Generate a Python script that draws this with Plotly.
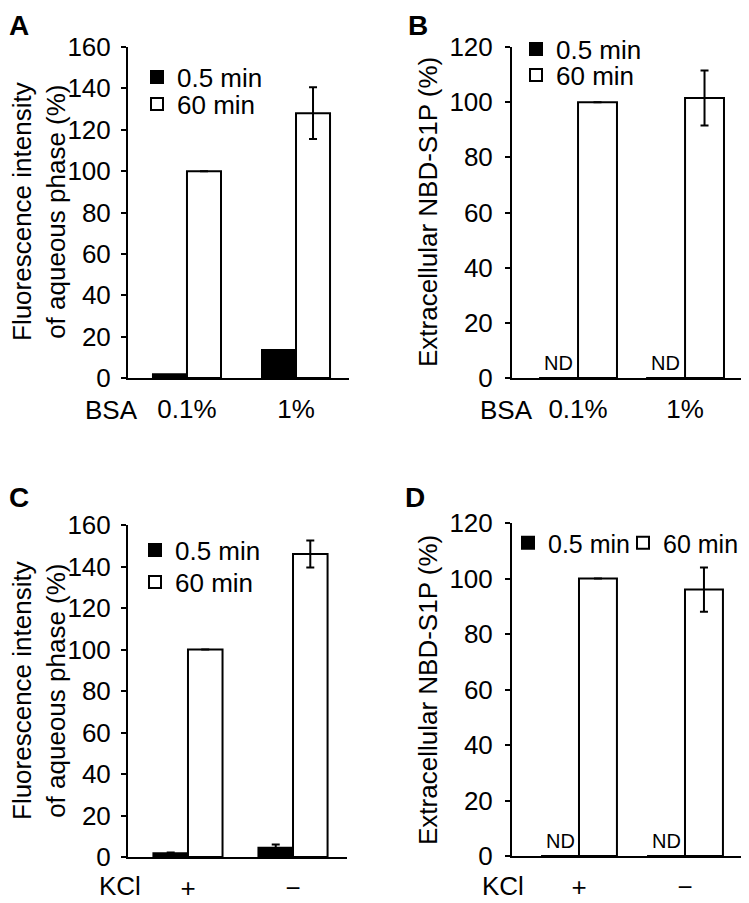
import plotly.graph_objects as go

W, H = 749, 903
OFF = 8  # the page body margin offsets the figure by 8 px
FONT = "Arial, Liberation Sans, sans-serif"
FS = 26

# ---------------- data ----------------
series_names = ["0.5 min", "60 min"]

a_categories = ["0.1%", "1%"]
a_black = [1.8, 13.5]
a_white = [100, 128]
a_white_err = [0, 12.5]

b_categories = ["0.1%", "1%"]
b_black = [0, 0]
b_black_label = ["ND", "ND"]
b_white = [100, 101.5]
b_white_err = [0, 10]

c_categories = ["+", "−"]
c_black = [1.8, 4.5]
c_black_err = [0.4, 1.5]
c_white = [100, 146]
c_white_err = [0, 6.5]

d_categories = ["+", "−"]
d_black = [0, 0]
d_black_label = ["ND", "ND"]
d_white = [100, 96]
d_white_err = [0, 8]

a_ticks = [0, 20, 40, 60, 80, 100, 120, 140, 160]
b_ticks = [0, 20, 40, 60, 80, 100, 120]

# ---------------- helpers ----------------
def px(x):
    return (x - OFF) / W

def py(y):
    return 1 - (y - OFF) / H

fig = go.Figure()

panels = [
    dict(xa="x", ya="y", cats=a_categories, black=a_black, black_err=None, black_label=None,
         white=a_white, white_err=a_white_err, w=0.312, leg=("legend", "legend2")),
    dict(xa="x2", ya="y2", cats=b_categories, black=b_black, black_err=None, black_label=b_black_label,
         white=b_white, white_err=b_white_err, w=0.364, leg=("legend3", "legend4")),
    dict(xa="x3", ya="y3", cats=c_categories, black=c_black, black_err=c_black_err, black_label=None,
         white=c_white, white_err=c_white_err, w=0.329, leg=("legend5", "legend6")),
    dict(xa="x4", ya="y4", cats=d_categories, black=d_black, black_err=None, black_label=d_black_label,
         white=d_white, white_err=d_white_err, w=0.358, leg=("legend7", "legend8")),
]

annotations = []
for p in panels:
    err_b = None
    if p["black_err"] is not None:
        err_b = dict(type="data", array=p["black_err"], visible=True, color="black",
                     thickness=2, width=4)
    fig.add_trace(go.Bar(
        x=p["cats"], y=p["black"], name=series_names[0],
        xaxis=p["xa"], yaxis=p["ya"], legend=p["leg"][0],
        width=p["w"], offset=-p["w"],
        marker=dict(color="black", line=dict(color="black", width=2)),
        error_y=err_b,
    ))
    fig.add_trace(go.Bar(
        x=p["cats"], y=p["white"], name=series_names[1],
        xaxis=p["xa"], yaxis=p["ya"], legend=p["leg"][1],
        width=p["w"], offset=0,
        marker=dict(color="white", line=dict(color="black", width=2)),
        error_y=dict(type="data", array=p["white_err"], visible=True, color="black",
                     thickness=2, width=4),
    ))
    if p["black_label"]:
        for i, lab in enumerate(p["black_label"]):
            annotations.append(dict(
                text=lab, x=i - p["w"] / 2, y=p["black"][i], xref=p["xa"], yref=p["ya"],
                showarrow=False, xanchor="center", yanchor="middle", yshift=15,
                font=dict(family=FONT, size=20, color="black")))

def xaxis(dom, rng, anchor):
    return dict(domain=[px(dom[0]), px(dom[1])], range=rng, anchor=anchor,
                showline=True, linecolor="black", linewidth=2, showgrid=False,
                zeroline=False, ticks="", ticklabelstandoff=7, layer="above traces",
                tickfont=dict(family=FONT, size=FS, color="black"), fixedrange=True)

def yaxis(dom, rng, ticks, anchor, standoff):
    return dict(domain=[py(dom[0]), py(dom[1])], range=rng, anchor=anchor,
                tickvals=ticks, showline=True, linecolor="black", linewidth=2,
                showgrid=False, zeroline=False, ticks="outside", ticklen=5,
                tickwidth=2, tickcolor="black", ticklabelstandoff=standoff,
                layer="above traces",
                tickfont=dict(family=FONT, size=FS, color="black"), fixedrange=True)

layout = dict(
    width=W, height=H, margin=dict(l=0, r=0, t=0, b=0, autoexpand=False),
    paper_bgcolor="white", plot_bgcolor="white",
    barmode="overlay", showlegend=True,
    font=dict(family=FONT, size=FS, color="black"),
    xaxis=xaxis((128, 349), [-0.541, 1.486], "y"),
    yaxis=yaxis((378, 47), [0, 160], a_ticks, "x", 5),
    xaxis2=xaxis((512, 747), [-0.617, 1.579], "y2"),
    yaxis2=yaxis((378, 47), [0, 120], b_ticks, "x2", 7),
    xaxis3=xaxis((128, 347), [-0.571, 1.514], "y3"),
    yaxis3=yaxis((857, 525), [0, 160], a_ticks, "x3", 5),
    xaxis4=xaxis((512, 747), [-0.632, 1.585], "y4"),
    yaxis4=yaxis((856, 523), [0, 120], b_ticks, "x4", 7),
)

# legends: (key, symbol-center x, text-center y, font size)
leg_pos = [
    ("legend", 157, 77, FS), ("legend2", 157, 104, FS),
    ("legend3", 536, 49, FS), ("legend4", 536, 75, FS),
    ("legend5", 155, 550, FS), ("legend6", 155, 582, FS),
    ("legend7", 528, 543, 25), ("legend8", 643, 543, 25),
]
for key, sx, ty, fs in leg_pos:
    layout[key] = dict(x=px(sx - 20), y=py(ty), xanchor="left", yanchor="middle",
                       bgcolor="rgba(0,0,0,0)", borderwidth=0,
                       font=dict(family=FONT, size=fs, color="black"),
                       itemclick=False, itemdoubleclick=False)

fig.update_layout(**layout)

# panel letters
for t, x, y in [("A", 19, 25), ("B", 418, 25), ("C", 19, 498), ("D", 415, 498)]:
    annotations.append(dict(text=f"<b>{t}</b>", x=px(x), y=py(y), xref="paper", yref="paper",
                            showarrow=False, xanchor="center", yanchor="middle",
                            font=dict(family=FONT, size=28, color="black")))
# y titles
for t, x, y in [("Fluorescence intensity<br>of aqueous phase (%)", 39, 212),
                ("Extracellular NBD-S1P (%)", 428, 212),
                ("Fluorescence intensity<br>of aqueous phase (%)", 39, 691),
                ("Extracellular NBD-S1P (%)", 428, 690)]:
    annotations.append(dict(text=t, x=px(x), y=py(y), xref="paper", yref="paper",
                            showarrow=False, xanchor="center", yanchor="middle", textangle=-90,
                            font=dict(family=FONT, size=FS, color="black")))
# x-axis row labels
for t, x, y in [("BSA", 111, 410), ("BSA", 506, 410), ("KCl", 120, 886), ("KCl", 503, 886)]:
    annotations.append(dict(text=t, x=px(x), y=py(y), xref="paper", yref="paper",
                            showarrow=False, xanchor="center", yanchor="middle",
                            font=dict(family=FONT, size=FS, color="black")))
fig.update_layout(annotations=annotations)

fig.write_html("out.html")
